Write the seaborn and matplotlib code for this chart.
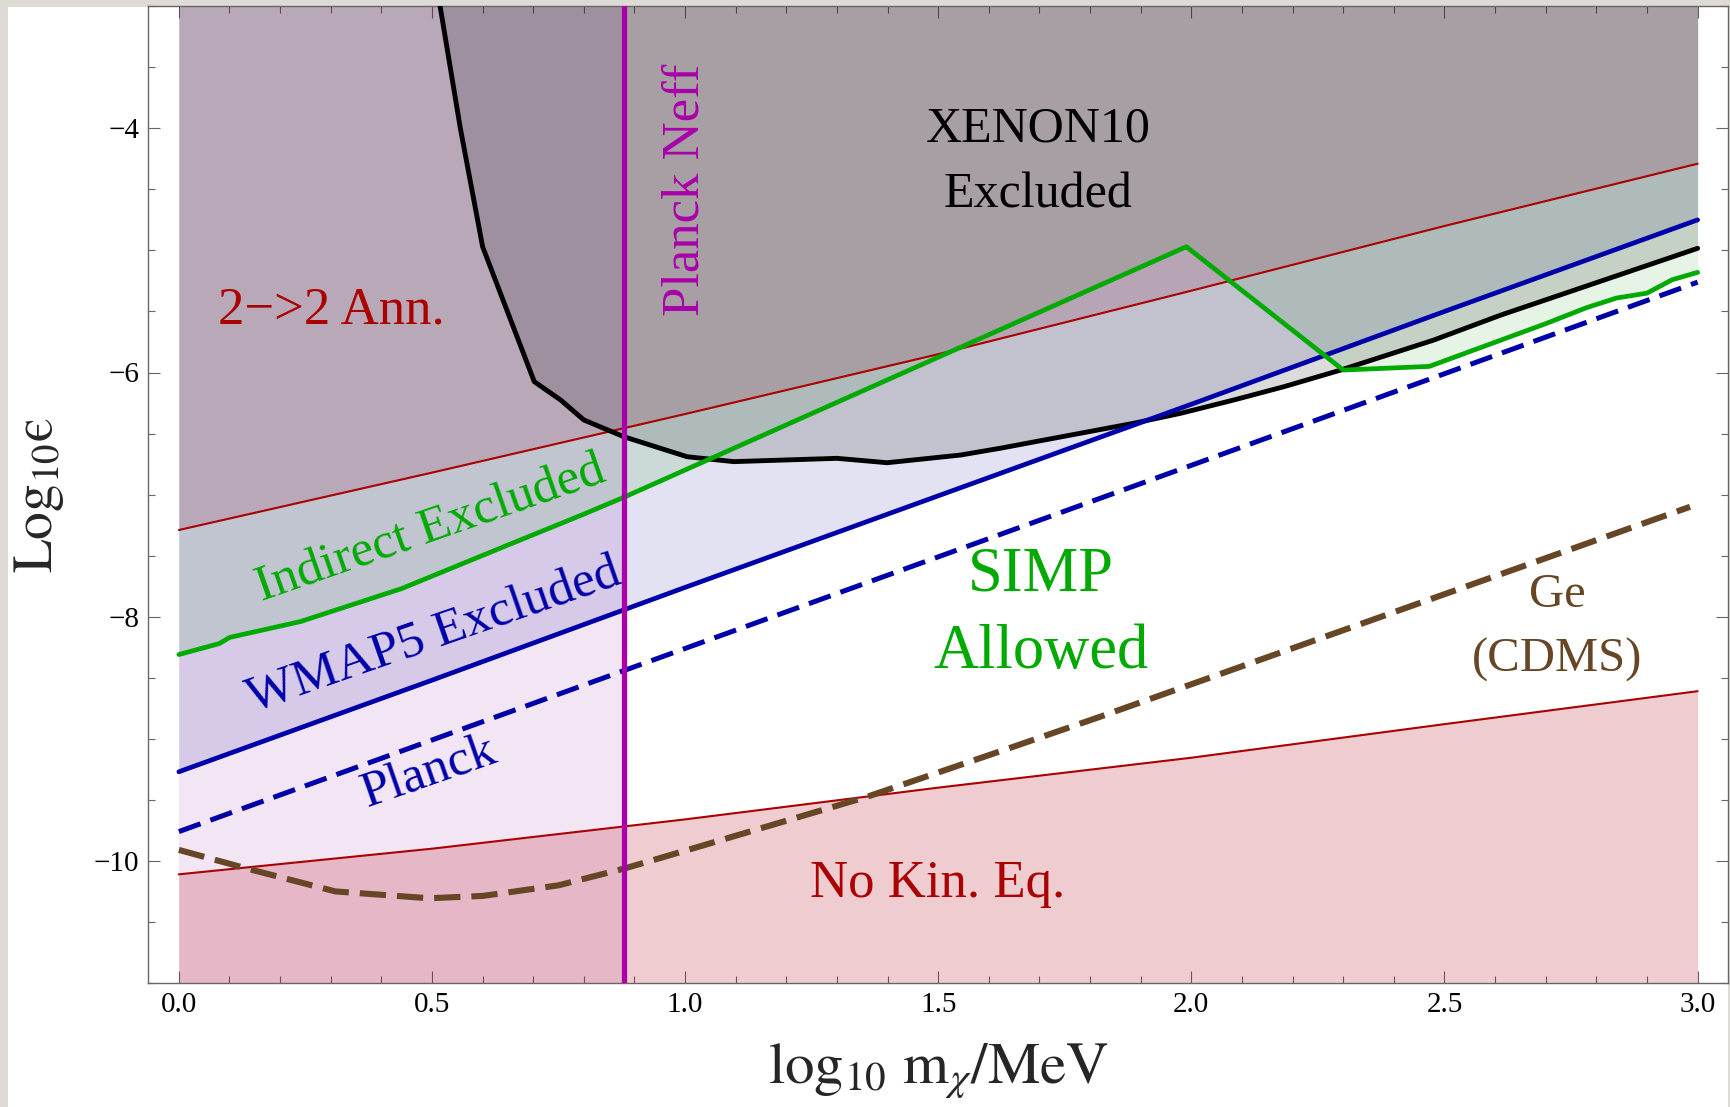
import numpy as np
import matplotlib
matplotlib.use("Agg")
import matplotlib.pyplot as plt
import seaborn as sns
from matplotlib.ticker import MultipleLocator, FormatStrFormatter
from matplotlib.patches import Rectangle

# ---------------------------------------------------------------- data
# 2->2 annihilation boundary (upper red)
ann_x = [0.0, 0.5, 1.0, 1.5, 2.0, 2.5, 3.0]
ann_y = [-7.29, -6.82, -6.34, -5.85, -5.33, -4.80, -4.29]

# kinetic-equilibrium boundary (lower red)
kin_x = [0.0, 0.5, 1.0, 1.5, 2.0, 2.5, 3.0]
kin_y = [-10.11, -9.90, -9.66, -9.40, -9.155, -8.88, -8.61]

# WMAP5 bound (solid blue) and Planck projection (dashed blue)
wmap_x = [0.0, 0.5, 1.0, 1.5, 2.0, 2.5, 3.0]
wmap_y = [-9.27, -8.52, -7.76, -7.01, -6.26, -5.50, -4.75]
planck_x = [0.0, 0.5, 1.0, 1.5, 2.0, 2.5, 3.0]
planck_y = [-9.76, -9.01, -8.26, -7.51, -6.76, -6.01, -5.26]

# indirect-detection bound (green)
ind_x = [0.0, 0.08, 0.10, 0.24, 0.44, 0.64, 0.80, 0.88, 1.99, 2.30, 2.47,
         2.70, 2.78, 2.84, 2.90, 2.95, 3.0]
ind_y = [-8.31, -8.22, -8.17, -8.04, -7.77, -7.43, -7.16, -7.02, -4.97, -5.98,
         -5.95, -5.60, -5.47, -5.39, -5.35, -5.24, -5.18]

# XENON10 electron-recoil bound (black)
xe_x = [0.516, 0.556, 0.600, 0.702, 0.754, 0.80, 0.879, 1.004, 1.096, 1.30,
        1.399, 1.544, 1.623, 1.886, 1.979, 2.084, 2.183, 2.295, 2.479, 2.611, 3.0]
xe_y = [-3.0, -4.0, -4.97, -6.075, -6.225, -6.389, -6.526, -6.69, -6.73, -6.703,
        -6.739, -6.676, -6.62, -6.416, -6.334, -6.225, -6.116, -5.98, -5.734, -5.53,
        -4.983]

# Ge (CDMS) projection (brown dashed)
ge_x = [0.0, 0.132, 0.309, 0.494, 0.60, 0.75, 0.882, 1.03, 1.36, 1.631, 1.82, 2.985]
ge_y = [-9.91, -10.06, -10.25, -10.306, -10.287, -10.20, -10.06, -9.88, -9.474,
        -9.09, -8.819, -7.10]

# Planck N_eff lower mass bound
neff_x = 0.88

x_ticks = [0.0, 0.5, 1.0, 1.5, 2.0, 2.5, 3.0]
y_ticks = [-10, -8, -6, -4]
x_lim = (-0.06, 3.06)
y_lim = (-11.0, -3.0)

# ---------------------------------------------------------------- colours
RED = "#AA0000"
GREEN = "#00AA00"
BLUE = "#0000AA"
MAGENTA = "#AA00AA"
BROWN = "#674626"
TICK = "#666666"

sns.set_style("ticks")
plt.rcParams["font.family"] = ["Liberation Serif", "DejaVu Serif"]
plt.rcParams["mathtext.fontset"] = "stix"
plt.rcParams["axes.unicode_minus"] = True

W, H = 1731, 1107
fig = plt.figure(figsize=(W / 100, H / 100), dpi=100, facecolor="#dedbd6")
panel = Rectangle((8 / W, 0), (1728 - 8) / W, 1 - 7 / H,
                  transform=fig.transFigure, facecolor="white",
                  edgecolor="none", zorder=-10)
fig.patches.append(panel)

ax_l, ax_r, ax_t, ax_b = 148.5, 1728.0, 6.2, 983.0
ax = fig.add_axes([ax_l / W, 1 - ax_b / H, (ax_r - ax_l) / W, (ax_b - ax_t) / H])
ax.set_zorder(1)
ax.set_facecolor("white")

# ---------------------------------------------------------------- shaded regions
ax.axvspan(0.0, neff_x, color=(133 / 255, 0, 153 / 255), alpha=0.10, lw=0, zorder=1)
ax.fill_between(kin_x, y_lim[0], kin_y, color=(177 / 255, 0, 20 / 255), alpha=0.20,
                lw=0, zorder=1)
ax.fill_between(wmap_x, wmap_y, y_lim[1], color=(0, 0, 147 / 255), alpha=0.112,
                lw=0, zorder=1)
ax.fill_between(ind_x, ind_y, y_lim[1], color=(5 / 255, 155 / 255, 5 / 255),
                alpha=0.10, lw=0, zorder=1)
ax.fill_between(ann_x, ann_y, y_lim[1], color=(150 / 255, 0, 45 / 255), alpha=0.145,
                lw=0, zorder=1)
ax.fill_between(xe_x, xe_y, y_lim[1], color="black", alpha=0.14, lw=0, zorder=1)

# ---------------------------------------------------------------- boundary curves
common = dict(ax=ax, sort=False, estimator=None, legend=False)
sns.lineplot(x=ann_x, y=ann_y, color=RED, linewidth=1.5, zorder=3, **common)
sns.lineplot(x=kin_x, y=kin_y, color=RED, linewidth=1.5, zorder=3, **common)
sns.lineplot(x=xe_x, y=xe_y, color="black", linewidth=3.5, zorder=4, **common)
sns.lineplot(x=wmap_x, y=wmap_y, color=BLUE, linewidth=3.4, zorder=5, **common)
sns.lineplot(x=planck_x, y=planck_y, color=BLUE, linewidth=3.6, zorder=5,
             linestyle=(0, (4.6, 2.1)), **common)
sns.lineplot(x=ind_x, y=ind_y, color=GREEN, linewidth=3.4, zorder=6, **common)
sns.lineplot(x=ge_x, y=ge_y, color=BROWN, linewidth=4.4, zorder=6,
             linestyle=(0, (4.3, 1.8)), **common)
ax.axvline(neff_x, color=MAGENTA, linewidth=3.8, zorder=7)

# ---------------------------------------------------------------- axes styling
ax.set_xlim(*x_lim)
ax.set_ylim(*y_lim)
ax.set_xticks(x_ticks)
ax.xaxis.set_minor_locator(MultipleLocator(0.1))
ax.xaxis.set_major_formatter(FormatStrFormatter("%.1f"))
ax.set_yticks(y_ticks)
ax.yaxis.set_minor_locator(MultipleLocator(0.5))
ax.tick_params(which="both", direction="in", top=True, right=True,
               color=TICK, width=0.8, labelsize=21, labelcolor="black")
ax.tick_params(which="major", length=8.4)
ax.tick_params(which="minor", length=5.0)
ax.tick_params(axis="x", which="major", pad=6.5)
ax.tick_params(axis="y", which="major", pad=6.5)
for s in ax.spines.values():
    s.set_color(TICK)
    s.set_linewidth(1.0)
ax.set_xlabel("")
ax.set_ylabel("")

fig.text(51.7 / W, 1 - 495 / H, "$\\mathrm{Log}_{10}\\mathrm{\u03f5}$", fontsize=40,
         rotation=90, ha="center", va="baseline", rotation_mode="anchor")
fig.text(938 / W, 1 - 1083 / H, r"$\mathrm{log}_{10}\ \mathrm{m}_{\chi}/\mathrm{MeV}$",
         fontsize=42.5, ha="center", va="baseline")

# ---------------------------------------------------------------- region labels
txt = dict(ha="center", va="baseline", zorder=10)
ax.text(0.301, -5.595, "2\u2212>2 Ann.", color=RED, fontsize=38, **txt)
ax.text(1.698, -4.11, "XENON10", color="black", fontsize=36, **txt)
ax.text(1.698, -4.65, "Excluded", color="black", fontsize=36, **txt)
ax.text(1.026, -4.50, "Planck Neff", color=MAGENTA, fontsize=38, rotation=90,
        rotation_mode="anchor", **txt)
ax.text(0.505, -7.386, "Indirect Excluded", color=GREEN, fontsize=37, rotation=19.2,
        rotation_mode="anchor", **txt)
ax.text(0.512, -8.252, "WMAP5 Excluded", color=BLUE, fontsize=37, rotation=19.2,
        rotation_mode="anchor", **txt)
ax.text(0.503, -9.378, "Planck", color=BLUE, fontsize=37, rotation=19.2,
        rotation_mode="anchor", **txt)
ax.text(1.702, -7.786, "SIMP", color=GREEN, fontsize=45, **txt)
ax.text(1.702, -8.42, "Allowed", color=GREEN, fontsize=45, **txt)
ax.text(2.722, -7.918, "Ge", color=BROWN, fontsize=35, **txt)
ax.text(2.722, -8.45, "(CDMS)", color=BROWN, fontsize=35, **txt)
ax.text(1.498, -10.293, "No Kin. Eq.", color=RED, fontsize=38, **txt)

fig.savefig("out.png", dpi=100, facecolor=fig.get_facecolor())
